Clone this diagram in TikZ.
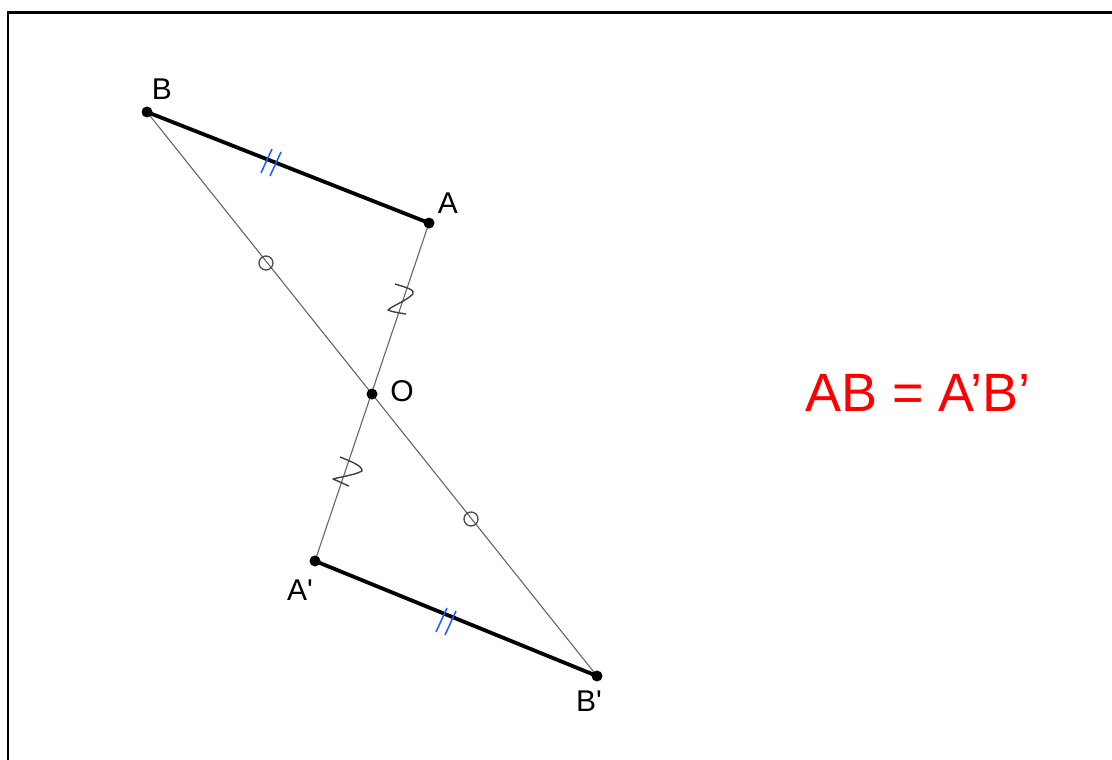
\documentclass[tikz,border=0pt]{standalone}
\usepackage{fontspec}
\setmainfont{Liberation Sans}
\newfontfamily\lblfont{Liberation Sans}
\begin{document}
\begin{tikzpicture}[x=1pt,y=-1pt,
  thinline/.style={draw=black!60,line width=1.1pt},
  seg/.style={draw=black,line width=3.8pt},
  dot/.style={circle,fill=black,inner sep=0pt,minimum size=11pt},
  lbl/.style={font=\lblfont\fontsize{30}{34}\selectfont},
  tick/.style={draw={rgb,255:red,30;green,90;blue,255},line width=1.5pt},
  zmark/.style={draw=black!75,line width=1.4pt,line join=round},
  cmark/.style={draw=black!70,line width=1.3pt}]
\useasboundingbox (0,0) rectangle (1112,760);
\fill[white] (0,0) rectangle (1112,760);
\draw[line width=2.5pt] (8,760) -- (8,12.5) -- (1112,12.5);
\coordinate (B) at (147,112);
\coordinate (A) at (429,223);
\coordinate (O) at (372,394);
\coordinate (A2) at (315,561);
\coordinate (B2) at (597,676);
\draw[thinline] (B) -- (B2);
\draw[thinline] (A) -- (A2);
\draw[seg] (B) -- (A);
\draw[seg] (A2) -- (B2);
\node[dot] (nB) at (B) {};
\node[dot] (nA) at (A) {};
\node[dot] (nO) at (O) {};
\node[dot] (nA2) at (A2) {};
\node[dot] (nB2) at (B2) {};
\node[lbl] (lB) at (162,89) {B};
\node[lbl] (lA) at (448,203) {A};
\node[lbl] (lO) at (402,391) {O};
\node[lbl] (lA2) at (300,590) {A'};
\node[lbl] (lB2) at (589,701) {B'};
% circle marks
\node[circle,cmark,minimum size=14pt,inner sep=0pt] (c1) at (266,263) {};
\node[circle,cmark,minimum size=14pt,inner sep=0pt] (c2) at (471,519) {};
% double ticks
\draw[tick] (261,173) -- (272,149);
\draw[tick] (270,176) -- (281,152);
\draw[tick] (436,632) -- (447,608);
\draw[tick] (445,635) -- (456,611);
% z marks
\draw[zmark] (395,284) .. controls (405,287) and (416,290) .. (413,294) .. controls (406,301) and (392,306) .. (388,310) .. controls (392,312) and (400,313) .. (406,314);
\draw[zmark] (340,457) .. controls (350,461) and (363,466) .. (362,471) .. controls (355,475) and (340,477) .. (333,479) .. controls (338,481) and (344,484) .. (349,486);
\node[font=\fontsize{54}{62}\selectfont,text={rgb,255:red,255;green,0;blue,0}] (eq) at (918,393) {AB = A’B’};
\end{tikzpicture}
\end{document}
